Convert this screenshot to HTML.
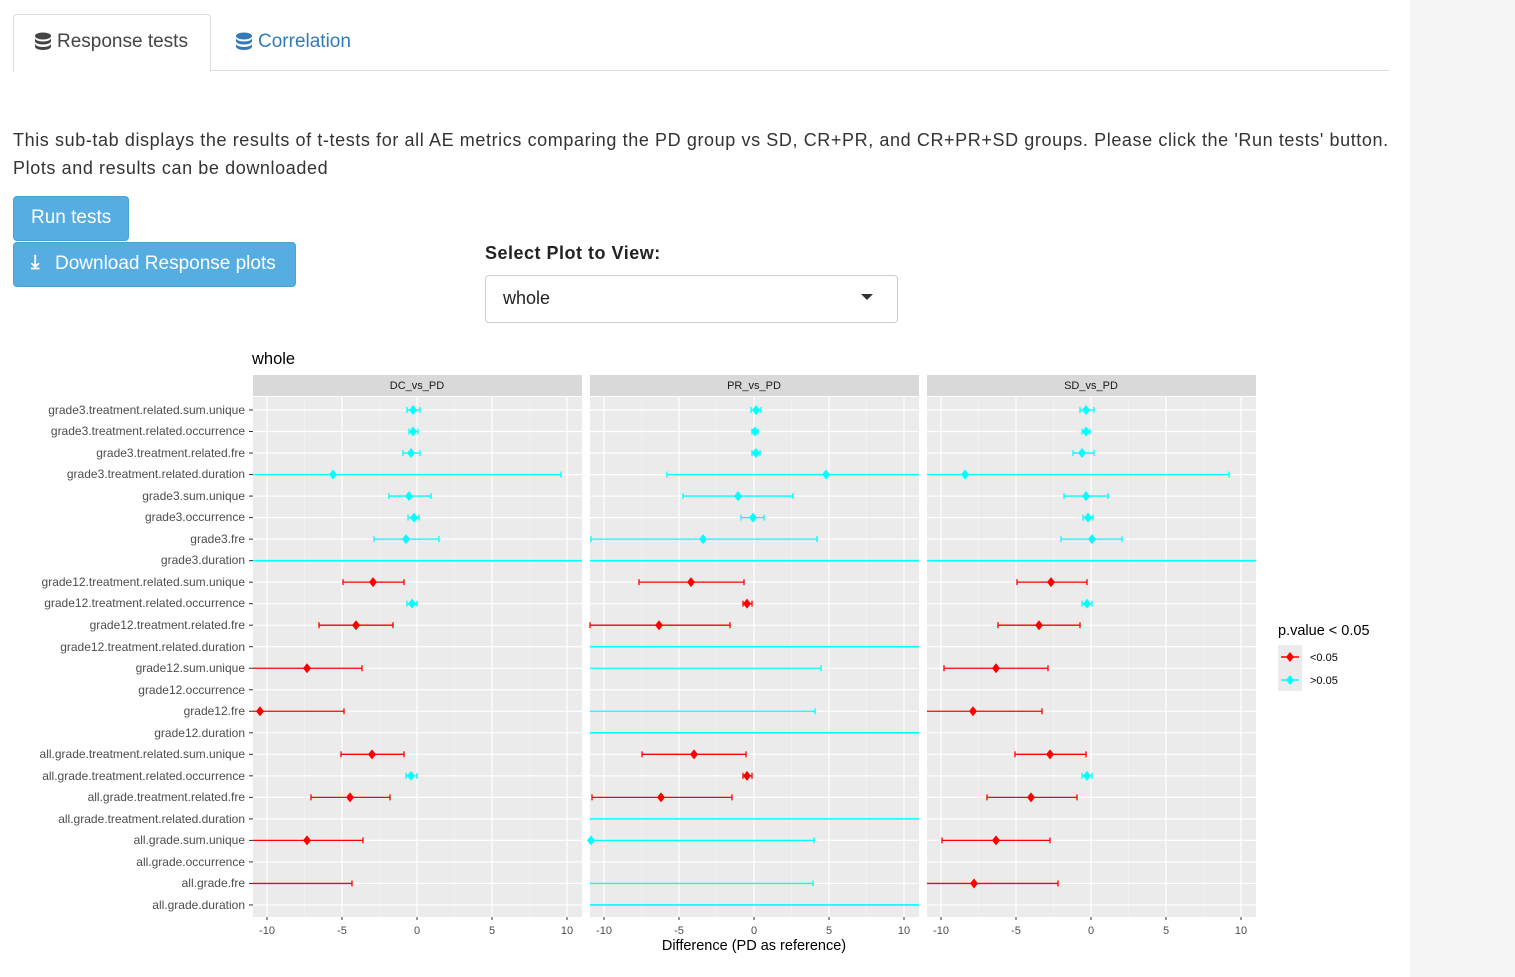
<!DOCTYPE html>
<html><head><meta charset="utf-8">
<style>
body{margin:0;width:1515px;height:977px;background:#fff;font-family:"Liberation Sans",Arial,sans-serif;position:relative;overflow:hidden;color:#333}
.side{position:absolute;left:1410px;top:0;width:105px;height:977px;background:#f5f5f5}
.abs{position:absolute}
.tabline{position:absolute;left:13px;top:70px;width:1376px;height:1px;background:#ddd}
.tab{position:absolute;left:13px;top:14px;width:196px;height:57px;border:1px solid #ddd;border-bottom:none;border-radius:4px 4px 0 0;background:#fff}
.btn{position:absolute;background:#55ade1;border:1px solid #4aa1d6;border-radius:4px;color:#fff;font-size:19px}
.sel{position:absolute;left:485px;top:275px;width:411px;height:46px;border:1px solid #ccc;border-radius:4px;background:#fff}
</style></head><body>
<div class="side"></div>
<div class="tabline"></div>
<div class="tab"></div>
<svg class="abs" style="left:34px;top:32px" width="18" height="20"><g fill="#444"><ellipse cx="9" cy="4" rx="8" ry="3.5"/><path d="M1 6c0 2 3.5 3.5 8 3.5s8-1.5 8-3.5v3c0 2-3.5 3.5-8 3.5S1 11 1 9z"/><path d="M1 11.5c0 2 3.5 3.5 8 3.5s8-1.5 8-3.5v3c0 2-3.5 3.5-8 3.5S1 16.5 1 14.5z"/></g></svg>
<div class="abs" style="left:57px;top:31px;font-size:19px;color:#444">Response tests</div>
<svg class="abs" style="left:235px;top:32px" width="18" height="20"><g fill="#337ab7"><ellipse cx="9" cy="4" rx="8" ry="3.5"/><path d="M1 6c0 2 3.5 3.5 8 3.5s8-1.5 8-3.5v3c0 2-3.5 3.5-8 3.5S1 11 1 9z"/><path d="M1 11.5c0 2 3.5 3.5 8 3.5s8-1.5 8-3.5v3c0 2-3.5 3.5-8 3.5S1 16.5 1 14.5z"/></g></svg>
<div class="abs" style="left:258px;top:31px;font-size:19px;color:#337ab7">Correlation</div>
<div class="abs" style="left:13px;top:126px;font-size:18px;line-height:28px;color:#333;width:1395px;letter-spacing:0.6px;white-space:nowrap">This sub-tab displays the results of t-tests for all AE metrics comparing the PD group vs SD, CR+PR, and CR+PR+SD groups. Please click the 'Run tests' button.<br>Plots and results can be downloaded</div>
<div class="btn" style="left:13px;top:196px;width:114px;height:43px"><span class="abs" style="left:17px;top:10px">Run tests</span></div>
<div class="btn" style="left:13px;top:242px;width:281px;height:43px"><span class="abs" style="left:17px;top:9px;font-size:19px;font-weight:bold">⤓</span><span class="abs" style="left:41px;top:10px">Download Response plots</span></div>
<div class="abs" style="left:485px;top:243px;font-size:18px;font-weight:bold;color:#222;letter-spacing:0.5px">Select Plot to View:</div>
<div class="sel"><span class="abs" style="left:17px;top:12px;font-size:18px;color:#222">whole</span><span class="abs" style="left:375px;top:18px;width:0;height:0;border-left:6px solid transparent;border-right:6px solid transparent;border-top:6px solid #333"></span></div>

<svg class="abs" style="left:0;top:0" width="1515" height="977" id="plot" font-family="Liberation Sans, Arial, sans-serif">
<text x="252" y="364" font-size="16.5" fill="#000">whole</text>
<g id="panels"></g>
<g font-size="11" fill="#1a1a1a" text-anchor="middle">
<text x="417" y="389">DC_vs_PD</text><text x="754" y="389">PR_vs_PD</text><text x="1091" y="389">SD_vs_PD</text>
</g>
<g font-size="12" fill="#4d4d4d" text-anchor="end">
<text x="245" y="414">grade3.treatment.related.sum.unique</text>
<text x="245" y="435">grade3.treatment.related.occurrence</text>
<text x="245" y="457">grade3.treatment.related.fre</text>
<text x="245" y="478">grade3.treatment.related.duration</text>
<text x="245" y="500">grade3.sum.unique</text>
<text x="245" y="521">grade3.occurrence</text>
<text x="245" y="543">grade3.fre</text>
<text x="245" y="564">grade3.duration</text>
<text x="245" y="586">grade12.treatment.related.sum.unique</text>
<text x="245" y="607">grade12.treatment.related.occurrence</text>
<text x="245" y="629">grade12.treatment.related.fre</text>
<text x="245" y="651">grade12.treatment.related.duration</text>
<text x="245" y="672">grade12.sum.unique</text>
<text x="245" y="694">grade12.occurrence</text>
<text x="245" y="715">grade12.fre</text>
<text x="245" y="737">grade12.duration</text>
<text x="245" y="758">all.grade.treatment.related.sum.unique</text>
<text x="245" y="780">all.grade.treatment.related.occurrence</text>
<text x="245" y="801">all.grade.treatment.related.fre</text>
<text x="245" y="823">all.grade.treatment.related.duration</text>
<text x="245" y="844">all.grade.sum.unique</text>
<text x="245" y="866">all.grade.occurrence</text>
<text x="245" y="887">all.grade.fre</text>
<text x="245" y="909">all.grade.duration</text>
</g>
<g font-size="11" fill="#4d4d4d" text-anchor="middle">
<text x="267" y="934">-10</text><text x="342" y="934">-5</text><text x="417" y="934">0</text><text x="492" y="934">5</text><text x="567" y="934">10</text>
<text x="604" y="934">-10</text><text x="679" y="934">-5</text><text x="754" y="934">0</text><text x="829" y="934">5</text><text x="904" y="934">10</text>
<text x="941" y="934">-10</text><text x="1016" y="934">-5</text><text x="1091" y="934">0</text><text x="1166" y="934">5</text><text x="1241" y="934">10</text>
</g>
<text x="754" y="950" font-size="14.5" fill="#000" text-anchor="middle">Difference (PD as reference)</text>
<text x="1278" y="635" font-size="14.5" fill="#000">p.value &lt; 0.05</text>
<rect x="1278" y="645" width="24" height="46" fill="#ebebeb"/>
<line x1="1281" y1="657" x2="1299" y2="657" stroke="red" stroke-width="1.5"/><path d="M1290 652l4 5-4 5-4-5z" fill="red"/>
<line x1="1281" y1="680" x2="1299" y2="680" stroke="cyan" stroke-width="1.5"/><path d="M1290 675l4 5-4 5-4-5z" fill="cyan"/>
<text x="1310" y="661" font-size="11" fill="#000">&lt;0.05</text>
<text x="1310" y="684" font-size="11" fill="#000">&gt;0.05</text>
</svg>
<script>
var g=document.getElementById('panels'),ns='http://www.w3.org/2000/svg';
function el(t,a){var e=document.createElementNS(ns,t);for(var k in a)e.setAttribute(k,a[k]);g.appendChild(e);return e;}
var L=[253,590,927],Z=[417,754,1091],W=329,T=397,B=917;
function ry(i){return 410+i*21.52;}
var R='red',C='cyan',F='full';
var D=[
[[413,407,420,C],[413,409,418,C],[411,403,420,C],[333,0,561,C],[409,389,431,C],[414,408,419,C],[406,374,439,C],F,
 [373,343,404,R],[412,407,417,C],[356,319,393,R],null,[307,0,362,R],null,[260,0,344,R],null,
 [372,341,404,R],[411,406,417,C],[350,311,390,R],null,[307,0,363,R],null,[-1,0,352,R],null],
[[756,751,761,C],[755,752,758,C],[756,752,760,C],[826,667,9999,C],[738,683,793,C],[753,741,764,C],[703,591,817,C],F,
 [691,639,744,R],[747,743,752,R],[659,590,730,R],F,[-1,0,821,C],null,[-1,0,815,C],F,
 [694,642,746,R],[747,743,752,R],[661,592,732,R],F,[591,591,814,C],null,[-1,0,813,C],F],
[[1086,1080,1094,C],[1086,1082,1090,C],[1082,1073,1094,C],[965,0,1229,C],[1086,1064,1108,C],[1088,1083,1093,C],[1092,1061,1122,C],F,
 [1051,1017,1087,R],[1087,1082,1092,C],[1039,998,1080,R],null,[996,944,1048,R],null,[973,0,1042,R],null,
 [1050,1015,1086,R],[1087,1082,1092,C],[1031,987,1077,R],null,[996,942,1050,R],null,[974,0,1058,R],null]];
for(var p=0;p<3;p++){
 var l=L[p],z=Z[p];
 el('rect',{x:l,y:375,width:W,height:21,fill:'#d9d9d9'});
 el('rect',{x:l,y:T,width:W,height:B-T,fill:'#ebebeb'});
 for(var v=-7.5;v<=7.5;v+=5)el('line',{x1:z+v*15,x2:z+v*15,y1:T,y2:B,stroke:'#f5f5f5','stroke-width':0.6});
 for(var v=-10;v<=10;v+=5){el('line',{x1:z+v*15,x2:z+v*15,y1:T,y2:B,stroke:'#fff','stroke-width':1.2});el('line',{x1:z+v*15,x2:z+v*15,y1:B,y2:B+3,stroke:'#333','stroke-width':1});}
 for(var i=0;i<24;i++){var y=ry(i);el('line',{x1:l,x2:l+W,y1:y,y2:y,stroke:'#fff','stroke-width':1.2});if(p==0)el('line',{x1:l-4,x2:l,y1:y,y2:y,stroke:'#333','stroke-width':1});}
 for(var i=0;i<24;i++){var d=D[p][i],y=ry(i);if(!d)continue;
  if(d===F){el('line',{x1:l,x2:l+W,y1:y,y2:y,stroke:C,'stroke-width':1.6});continue;}
  var lo=Math.max(d[1],l),hi=Math.min(d[2],l+W),c=d[3];
  el('line',{x1:lo,x2:hi,y1:y,y2:y,stroke:c,'stroke-width':1.3});
  if(d[1]>=l)el('line',{x1:d[1],x2:d[1],y1:y-3,y2:y+3,stroke:c,'stroke-width':1.3});
  if(d[2]<=l+W)el('line',{x1:d[2],x2:d[2],y1:y-3,y2:y+3,stroke:c,'stroke-width':1.3});
  if(d[0]>=l)el('path',{d:'M'+d[0]+' '+(y-5)+'l4 5-4 5-4-5z',fill:c});
 }
}
</script>
</body></html>
